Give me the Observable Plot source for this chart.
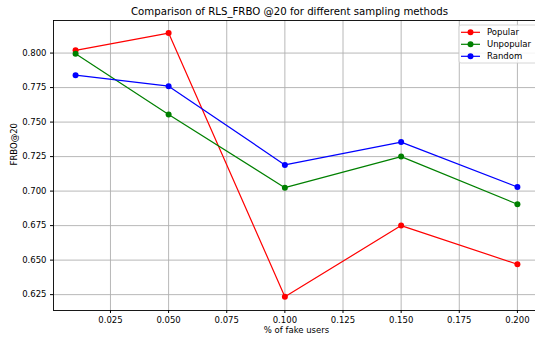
<!DOCTYPE html>
<html>
<head>
<meta charset="utf-8">
<script src="https://cdn.jsdelivr.net/npm/d3@7"></script>
<script src="https://cdn.jsdelivr.net/npm/@observablehq/plot@0.6"></script>
<style>
  html, body { margin: 0; padding: 0; background: #fff; overflow: hidden; }
  #wrap { position: relative; width: 535px; height: 340px; overflow: hidden; }
  #chart svg { max-width: none !important; display: block; }
  #title { position: absolute; left: 0; top: 6px; width: 579px; text-align: center;
           font: 10.2px/12px "DejaVu Sans", sans-serif; color: #000; }
</style>
</head>
<body>
<div id="wrap">
  <div id="chart"></div>
  <div id="title">Comparison of RLS_FRBO @20 for different sampling methods</div>
</div>
<script>
// Share of injected fake users
const fakeShare = [0.01, 0.05, 0.1, 0.15, 0.2];
// FRBO@20 for each sampling method
const popular   = [0.802, 0.8145, 0.6235, 0.675, 0.647];
const unpopular = [0.7995, 0.7555, 0.7025, 0.725, 0.6905];
const random    = [0.784, 0.776, 0.719, 0.7355, 0.703];
const methods = ["Popular", "Unpopular", "Random"];
const methodColors = ["#ff0000", "#008000", "#0000ff"];
const xTicks = [0.025, 0.05, 0.075, 0.1, 0.125, 0.15, 0.175, 0.2];
const yTicks = [0.625, 0.65, 0.675, 0.7, 0.725, 0.75, 0.775, 0.8];

const series = [popular, unpopular, random];
const rows = methods.flatMap((m, i) =>
  fakeShare.map((x, j) => ({method: m, x, y: series[i][j]})));

const fmt = d3.format(".3f");
const gridColor = "#b0b0b0";
const fs = 8.5;

const svg = Plot.plot({
  width: 540,
  height: 340,
  marginLeft: 53,
  marginRight: 1,
  marginTop: 20,
  marginBottom: 30,
  style: {fontFamily: "DejaVu Sans, sans-serif", fontSize: fs + "px", background: "#fff", color: "#000", maxWidth: "none"},
  x: {domain: [0.0005, 0.2095]},
  y: {domain: [0.6135, 0.8236]},
  color: {domain: methods, range: methodColors},
  marks: [
    Plot.gridX(xTicks, {stroke: gridColor, strokeOpacity: 1, strokeWidth: 0.9}),
    Plot.gridY(yTicks, {stroke: gridColor, strokeOpacity: 1, strokeWidth: 0.9}),
    Plot.line(rows, {x: "x", y: "y", z: "method", stroke: "method", strokeWidth: 1.2}),
    Plot.dot(rows, {x: "x", y: "y", fill: "method", r: 3, stroke: null}),
    Plot.frame({stroke: "#000", strokeWidth: 0.9}),
    Plot.axisX(xTicks, {tickFormat: fmt, tickSize: 3, tickPadding: 3, fontSize: fs, label: null}),
    Plot.axisY(yTicks, {tickFormat: fmt, tickSize: 3, tickPadding: 4, fontSize: fs, label: null}),
    Plot.text(["% of fake users"], {frameAnchor: "bottom", dy: 22, fontSize: fs, fill: "#000"}),
    Plot.text(["FRBO@20"], {frameAnchor: "left", dx: -39, rotate: -90, fontSize: fs, fill: "#000"})
  ]
});
document.getElementById("chart").appendChild(svg);

// Legend box in the upper-right corner of the axes
const legend = d3.select(svg).append("g")
  .attr("font-family", "DejaVu Sans, sans-serif").attr("font-size", fs).attr("text-anchor", "start");
legend.append("rect")
  .attr("x", 459).attr("y", 25).attr("width", 78).attr("height", 38).attr("rx", 2)
  .attr("fill", "#fff").attr("fill-opacity", 0.85).attr("stroke", "#cccccc").attr("stroke-width", 0.8);
methods.forEach((m, i) => {
  const cy = 32.3 + i * 12;
  legend.append("line").attr("x1", 461).attr("x2", 480).attr("y1", cy).attr("y2", cy)
    .attr("stroke", methodColors[i]).attr("stroke-width", 1.2);
  legend.append("circle").attr("cx", 470.5).attr("cy", cy).attr("r", 3).attr("fill", methodColors[i]);
  legend.append("text").attr("x", 487).attr("y", cy).attr("dy", "0.35em").attr("fill", "#000").text(m);
});
</script>
</body>
</html>
